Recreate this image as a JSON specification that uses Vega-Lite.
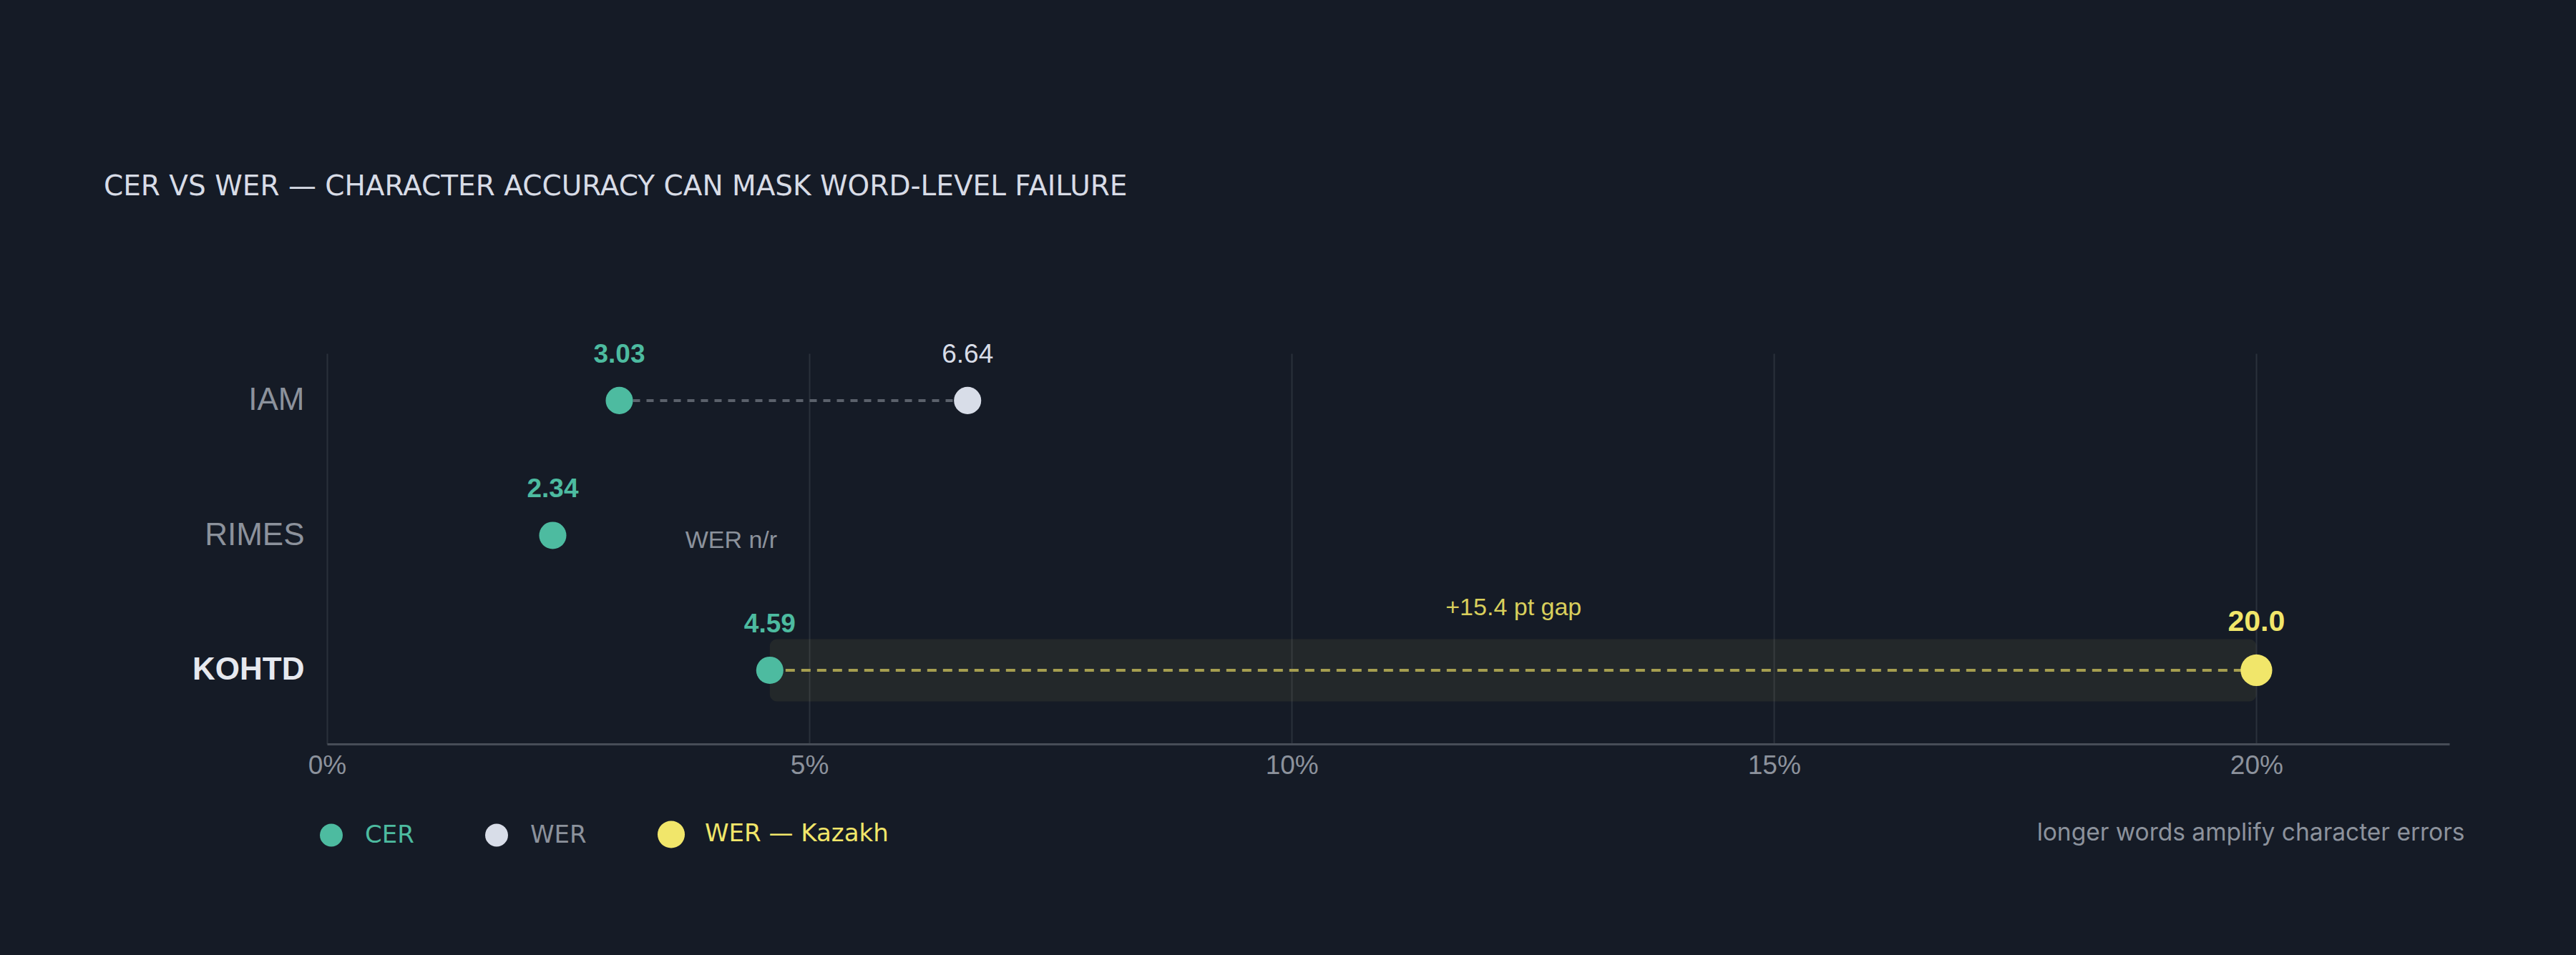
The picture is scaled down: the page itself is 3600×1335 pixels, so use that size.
{
  "$schema": "https://vega.github.io/schema/vega-lite/v6.json",
  "width": 2966,
  "height": 546,
  "autosize": "none",
  "padding": {"left": 457, "top": 494, "right": 177, "bottom": 295},
  "background": "#151b26",
  "config": {
    "view": {"stroke": null},
    "font": "Liberation Sans"
  },
  "title": {
    "text": "CER VS WER — CHARACTER ACCURACY CAN MASK WORD-LEVEL FAILURE",
    "anchor": "start",
    "frame": "group",
    "orient": "top",
    "baseline": "alphabetic",
    "offset": 165,
    "dx": -312,
    "font": "DejaVu Sans",
    "fontSize": 39,
    "fontWeight": "normal",
    "color": "#d8dce6"
  },
  "datasets": {
    "scores": [
      {"model": "IAM", "metric": "CER", "value": 3.03, "label": "3.03"},
      {"model": "IAM", "metric": "WER", "value": 6.64, "label": "6.64"},
      {"model": "RIMES", "metric": "CER", "value": 2.34, "label": "2.34"},
      {"model": "KOHTD", "metric": "CER", "value": 4.59, "label": "4.59"},
      {"model": "KOHTD", "metric": "WER — Kazakh", "value": 20.0, "label": "20.0"}
    ],
    "gap": [
      {"model": "KOHTD", "cer": 4.59, "wer": 20.0}
    ],
    "notes": [
      {"model": "KOHTD", "x": 12.3, "note": "+15.4 pt gap"},
      {"model": "RIMES", "x": 4.19, "note": "WER n/r"}
    ]
  },
  "encoding": {
    "y": {
      "field": "model",
      "type": "nominal",
      "scale": {"type": "point", "domain": ["IAM", "RIMES", "KOHTD"], "padding": 0.448, "align": 0.39},
      "axis": {
        "title": null,
        "domain": false,
        "ticks": false,
        "grid": false,
        "labelFontSize": 44,
        "labelPadding": 32,
        "labelColor": {"condition": {"test": "datum.value == 'KOHTD'", "value": "#e6e9ef"}, "value": "#8c929c"},
        "labelFontWeight": {"condition": {"test": "datum.value == 'KOHTD'", "value": "bold"}, "value": "normal"}
      }
    }
  },
  "layer": [
    {
      "data": {"name": "gap"},
      "mark": {"type": "bar", "size": 87, "cornerRadius": 10, "color": "#f1e66a", "opacity": 0.065},
      "encoding": {
        "x": {
          "field": "cer",
          "type": "quantitative",
          "scale": {"domain": [0, 22], "nice": false, "zero": true},
          "axis": {
            "values": [0, 5, 10, 15, 20],
            "labelExpr": "datum.value + '%'",
            "labelFlush": false,
            "labelFontSize": 37,
            "labelColor": "#8c929c",
            "labelPadding": 12,
            "ticks": false,
            "domainColor": "#474d57",
            "domainWidth": 3,
            "grid": true,
            "gridColor": "#2a313b",
            "gridWidth": 2,
            "title": "longer words amplify character errors",
            "titleX": 2987,
            "titleY": 124,
            "titleAlign": "right",
            "titleBaseline": "middle",
            "titleFont": "Inter",
            "titleFontSize": 33.5,
            "titleFontWeight": "normal",
            "titleColor": "#8c929c"
          }
        },
        "x2": {"field": "wer"}
      }
    },
    {
      "data": {"name": "scores"},
      "transform": [{"filter": "datum.model == 'IAM'"}],
      "mark": {"type": "line", "color": "#5b616b", "strokeWidth": 4, "strokeDash": [10, 9]},
      "encoding": {
        "x": {"field": "value", "type": "quantitative"}
      }
    },
    {
      "data": {"name": "scores"},
      "transform": [{"filter": "datum.model == 'KOHTD'"}],
      "mark": {"type": "line", "color": "#a69f50", "strokeWidth": 4, "strokeDash": [13, 9]},
      "encoding": {
        "x": {"field": "value", "type": "quantitative"}
      }
    },
    {
      "data": {"name": "scores"},
      "mark": {"type": "point", "shape": "circle", "filled": true, "opacity": 1, "strokeWidth": 0},
      "encoding": {
        "x": {"field": "value", "type": "quantitative"},
        "color": {
          "field": "metric",
          "type": "nominal",
          "scale": {"domain": ["CER", "WER", "WER — Kazakh"], "range": ["#4dbba0", "#d8dde8", "#f1e66a"]},
          "legend": {
            "orient": "none",
            "direction": "horizontal",
            "legendX": -11,
            "legendY": 655,
            "title": null,
            "padding": 0,
            "symbolType": "circle",
            "symbolOpacity": 1,
            "symbolStrokeWidth": 0,
            "symbolSize": {"expr": "datum.label == 'WER — Kazakh' ? 1450 : 1020"},
            "labelFont": "DejaVu Sans",
            "labelFontSize": 34,
            "labelLimit": 0,
            "labelOffset": 30,
            "columnPadding": 98,
            "labelColor": {"expr": "datum.label == 'CER' ? '#4dbba0' : datum.label == 'WER' ? '#8c929c' : '#f1e66a'"}
          }
        },
        "size": {"condition": {"test": "datum.metric == 'WER — Kazakh'", "value": 1960}, "value": 1450}
      }
    },
    {
      "data": {"name": "scores"},
      "transform": [{"filter": "datum.metric == 'CER'"}],
      "mark": {"type": "text", "fontWeight": "bold", "fontSize": 37, "color": "#4dbba0", "dy": -64, "baseline": "middle"},
      "encoding": {
        "x": {"field": "value", "type": "quantitative"},
        "text": {"field": "label"}
      }
    },
    {
      "data": {"name": "scores"},
      "transform": [{"filter": "datum.metric == 'WER'"}],
      "mark": {"type": "text", "fontWeight": "normal", "fontSize": 37, "color": "#d8dde8", "dy": -64, "baseline": "middle"},
      "encoding": {
        "x": {"field": "value", "type": "quantitative"},
        "text": {"field": "label"}
      }
    },
    {
      "data": {"name": "scores"},
      "transform": [{"filter": "datum.metric == 'WER — Kazakh'"}],
      "mark": {"type": "text", "fontWeight": "bold", "fontSize": 41, "color": "#f1e66a", "dy": -67, "baseline": "middle"},
      "encoding": {
        "x": {"field": "value", "type": "quantitative"},
        "text": {"field": "label"}
      }
    },
    {
      "data": {"name": "notes"},
      "transform": [{"filter": "datum.model == 'KOHTD'"}],
      "mark": {"type": "text", "fontSize": 34, "color": "#d9cf5c", "dy": -87, "baseline": "middle"},
      "encoding": {
        "x": {"field": "x", "type": "quantitative"},
        "text": {"field": "note"}
      }
    },
    {
      "data": {"name": "notes"},
      "transform": [{"filter": "datum.model == 'RIMES'"}],
      "mark": {"type": "text", "fontSize": 34, "color": "#8c929c", "dy": 8, "baseline": "middle"},
      "encoding": {
        "x": {"field": "x", "type": "quantitative"},
        "text": {"field": "note"}
      }
    }
  ]
}
